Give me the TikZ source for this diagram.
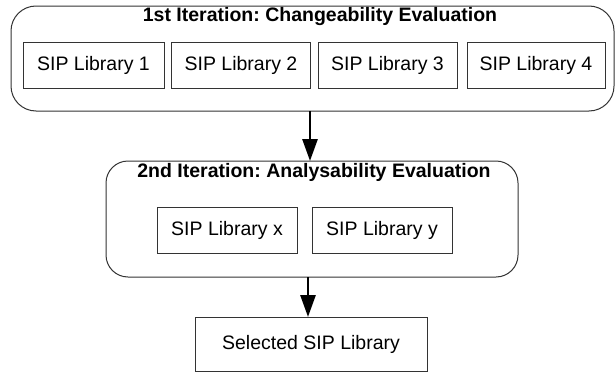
\documentclass[tikz,border=0pt]{standalone}
\usepackage{fontspec}
\setmainfont{Liberation Sans}
\usetikzlibrary{arrows.meta}
\frenchspacing
\begin{document}
\begin{tikzpicture}[x=1pt,y=-1pt,
  txt/.style={font=\fontsize{19.5}{23}\selectfont},
  ttl/.style={font=\fontsize{19.5}{23}\selectfont\bfseries},
  frame/.style={draw=black!80,line width=1pt},
  flow/.style={draw=black,line width=2.8pt,-{Triangle[length=22pt,width=15pt]}}]
\useasboundingbox (0,0) rectangle (616,372);
% outer groups
\draw[frame,rounded corners=25pt] (11,6) rectangle (614,111);
\coordinate (g1b) at (310,111);
\node[ttl] (t1) at (320,17) {1st Iteration: Changeability Evaluation};
\draw[frame,rounded corners=22pt] (106,161) rectangle (518,277);
\coordinate (g2t) at (310,161);
\coordinate (g2b) at (308,277);
\node[ttl] (t2) at (314,172) {2nd Iteration: Analysability Evaluation};
% inner boxes row 1
\draw[frame] (23,42) rectangle (164,88.5);
\node[txt] (l1) at (93.5,65) {SIP Library 1};
\draw[frame] (171.5,42) rectangle (310.5,88.5);
\node[txt] (l2) at (241,65) {SIP Library 2};
\draw[frame] (318,42) rectangle (457,88.5);
\node[txt] (l3) at (387.5,65) {SIP Library 3};
\draw[frame] (467,42) rectangle (605,88.5);
\node[txt] (l4) at (536,65) {SIP Library 4};
% row 2
\draw[frame] (157,207) rectangle (297,253);
\node[txt] (lx) at (227,230) {SIP Library x};
\draw[frame] (312,207) rectangle (452,253);
\node[txt] (ly) at (382,230) {SIP Library y};
% final
\draw[frame] (195,317) rectangle (427,371);
\node[txt] (sel) at (311,344) {Selected SIP Library};
\coordinate (selt) at (308,317);
% arrows
\draw[flow] (g1b) -- (g2t);
\draw[flow] (g2b) -- (selt);
\end{tikzpicture}
\end{document}
